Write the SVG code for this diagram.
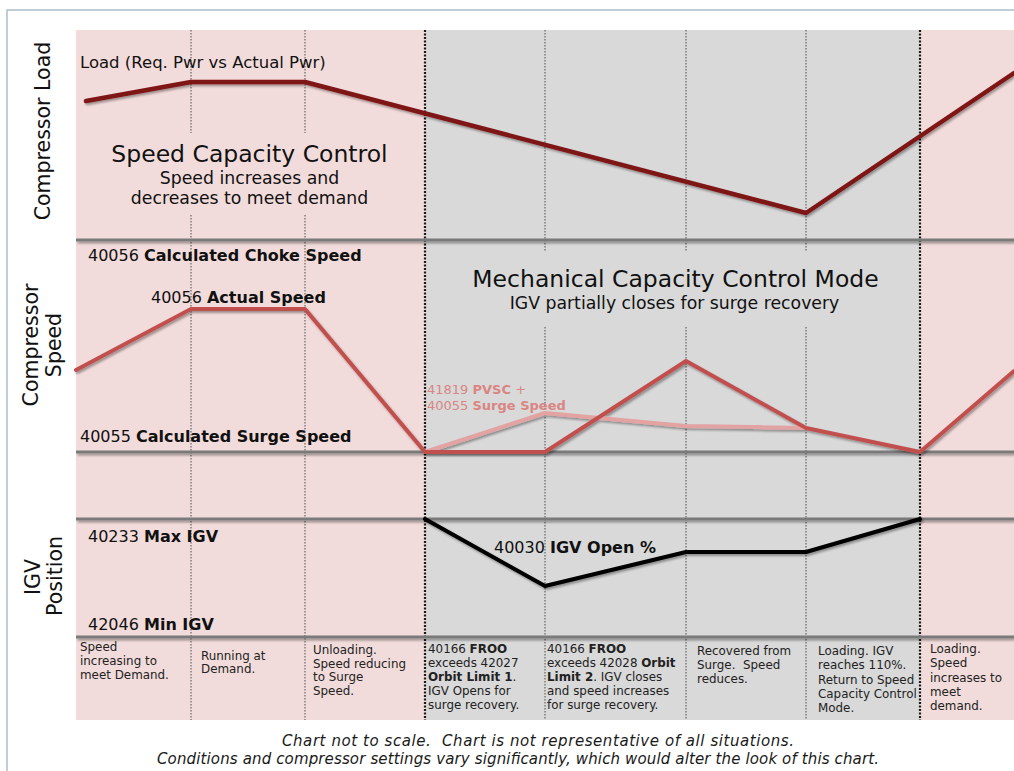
<svg xmlns="http://www.w3.org/2000/svg" width="1014" height="771" viewBox="0 0 1014 771">
<defs>
<style>
text{font-family:"DejaVu Sans",Verdana,sans-serif;fill:#111}
.ax{font-size:20.5px}
.ttl{font-size:23.5px}
.sub{font-size:17.3px}
.lbl{font-size:16px}
.b{font-weight:bold}
.d{font-size:11.9px;fill:#222}
.ft{font-size:15px;font-style:italic;fill:#1a1a1a}
.grid{stroke:#7a7a7a;stroke-width:3}
.dot{stroke:#4a4a4a;stroke-width:1;stroke-dasharray:1.5 1.5;fill:none}
.bdot{stroke:#1a1a1a;stroke-width:2.2;stroke-dasharray:2 1.5;fill:none}
.ser{fill:none;stroke-linejoin:round;stroke-linecap:round}
</style>
<filter id="sh" filterUnits="userSpaceOnUse" x="0" y="0" width="1014" height="771">
<feDropShadow dx="1.5" dy="2" stdDeviation="1.2" flood-color="#000" flood-opacity="0.35"/>
</filter>
</defs>

<g id="frame">
<rect x="0" y="0" width="1014" height="771" fill="#fff"/>
<rect x="7" y="10" width="1040" height="800" fill="#fff" stroke="#aebfca" stroke-width="1.5"/>
</g>

<g id="background">
<rect x="76" y="30" width="938" height="690" fill="#f2dcdb"/>
<rect x="425" y="30" width="495" height="690" fill="#d9d9d9"/>
</g>

<g id="dividers">
<path class="dot" d="M191,30V133M191,215V720M305,30V133M305,215V720"/>
<path class="dot" d="M545,30V251M545,327V720M686,30V251M686,327V720M806,30V251M806,327V720"/>
<path class="bdot" d="M425,30V720M920,30V720"/>
</g>

<g id="grid-lines" filter="url(#sh)">
<line class="grid" x1="76" y1="240" x2="1014" y2="240"/>
<line class="grid" x1="76" y1="452" x2="1014" y2="452"/>
<line class="grid" x1="76" y1="519" x2="1014" y2="519"/>
<line class="grid" x1="76" y1="637" x2="1014" y2="637"/>
</g>

<g id="series" filter="url(#sh)">
<polyline id="load-line" class="ser" stroke="#7e1414" stroke-width="4.5" points="86,101 191,82 305,82 806,213 1014,73"/>
<polyline id="pvsc-line" class="ser" stroke="#e2a3a2" stroke-width="4" points="425,452 545,413 686,426 806,428"/>
<polyline id="speed-line" class="ser" stroke="#c0504d" stroke-width="4" points="76,370 191,309 305,309 425,452 545,452 686,361 806,428 920,452 1014,371"/>
<polyline id="igv-line" class="ser" stroke="#000" stroke-width="4" points="425,519 545,586 686,552 806,552 920,519"/>
</g>

<g id="axis-labels">
<text class="ax" transform="translate(50,131) rotate(-90)" text-anchor="middle">Compressor Load</text>
<text class="ax" transform="translate(38,345) rotate(-90)" text-anchor="middle">Compressor</text>
<text class="ax" transform="translate(61,345) rotate(-90)" text-anchor="middle">Speed</text>
<text class="ax" transform="translate(39.5,577) rotate(-90)" text-anchor="middle">IGV</text>
<text class="ax" transform="translate(62,576) rotate(-90)" text-anchor="middle">Position</text>
</g>

<g id="load-section">
<text class="lbl" x="80" y="68" style="font-size:16.5px">Load (Req. Pwr vs Actual Pwr)</text>
<text class="ttl" x="249.5" y="162" text-anchor="middle">Speed Capacity Control</text>
<text class="sub" x="249.5" y="184" text-anchor="middle">Speed increases and</text>
<text class="sub" x="249.5" y="204" text-anchor="middle">decreases to meet demand</text>
</g>

<g id="speed-section">
<text class="lbl" x="88" y="261">40056 <tspan class="b">Calculated Choke Speed</tspan></text>
<text class="lbl" x="151" y="303">40056 <tspan class="b">Actual Speed</tspan></text>
<text class="lbl" x="80" y="442">40055 <tspan class="b">Calculated Surge Speed</tspan></text>
<text class="ttl" x="675.5" y="287" text-anchor="middle">Mechanical Capacity Control Mode</text>
<text class="sub" x="674.5" y="309" text-anchor="middle">IGV partially closes for surge recovery</text>
<text x="427" y="394" style="font-size:13px;fill:#d98583">41819 <tspan class="b" style="fill:#d98583">PVSC</tspan> +</text>
<text x="427" y="410" style="font-size:13px;fill:#d98583">40055 <tspan class="b" style="fill:#d98583">Surge Speed</tspan></text>
</g>

<g id="igv-section">
<text class="lbl" x="88" y="542">40233 <tspan class="b">Max IGV</tspan></text>
<text class="lbl" x="88" y="630">42046 <tspan class="b">Min IGV</tspan></text>
<text class="lbl" x="494" y="553">40030 <tspan class="b">IGV Open %</tspan></text>
</g>

<g id="descriptions">
<g id="desc-1">
<text class="d" x="80" y="651">Speed</text>
<text class="d" x="80" y="665">increasing to</text>
<text class="d" x="80" y="679">meet Demand.</text>
</g>
<g id="desc-2">
<text class="d" x="201" y="660">Running at</text>
<text class="d" x="201" y="673">Demand.</text>
</g>
<g id="desc-3">
<text class="d" x="313" y="654">Unloading.</text>
<text class="d" x="313" y="668">Speed reducing</text>
<text class="d" x="313" y="681">to Surge</text>
<text class="d" x="313" y="695">Speed.</text>
</g>
<g id="desc-4">
<text class="d" x="428" y="653">40166 <tspan class="b">FROO</tspan></text>
<text class="d" x="428" y="667">exceeds 42027</text>
<text class="d" x="428" y="681"><tspan class="b">Orbit Limit 1</tspan>.</text>
<text class="d" x="428" y="695">IGV Opens for</text>
<text class="d" x="428" y="709">surge recovery.</text>
</g>
<g id="desc-5">
<text class="d" x="547" y="653">40166 <tspan class="b">FROO</tspan></text>
<text class="d" x="547" y="667">exceeds 42028 <tspan class="b">Orbit</tspan></text>
<text class="d" x="547" y="681"><tspan class="b">Limit 2</tspan>. IGV closes</text>
<text class="d" x="547" y="695">and speed increases</text>
<text class="d" x="547" y="709">for surge recovery.</text>
</g>
<g id="desc-6">
<text class="d" x="697" y="655">Recovered from</text>
<text class="d" x="697" y="669" style="white-space:pre">Surge.  Speed</text>
<text class="d" x="697" y="683">reduces.</text>
</g>
<g id="desc-7">
<text class="d" x="818" y="655">Loading. IGV</text>
<text class="d" x="818" y="669">reaches 110%.</text>
<text class="d" x="818" y="684">Return to Speed</text>
<text class="d" x="818" y="698">Capacity Control</text>
<text class="d" x="818" y="712">Mode.</text>
</g>
<g id="desc-8">
<text class="d" x="930" y="653">Loading.</text>
<text class="d" x="930" y="667">Speed</text>
<text class="d" x="930" y="682">increases to</text>
<text class="d" x="930" y="696">meet</text>
<text class="d" x="930" y="710">demand.</text>
</g>
</g>

<g id="footer">
<text class="ft" x="282" y="746" textLength="512" style="white-space:pre">Chart not to scale.  Chart is not representative of all situations.</text>
<text class="ft" x="157" y="764" textLength="722">Conditions and compressor settings vary significantly, which would alter the look of this chart.</text>
</g>
</svg>
